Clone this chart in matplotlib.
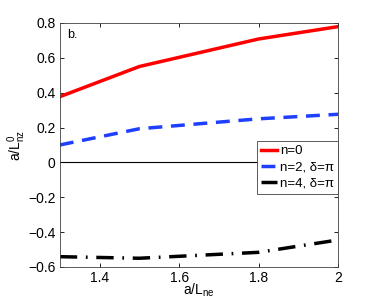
import matplotlib
matplotlib.use("Agg")
import matplotlib.pyplot as plt

plt.rcParams['font.family'] = ['Liberation Sans', 'DejaVu Sans']
plt.rcParams['mathtext.fontset'] = 'custom'
plt.rcParams['mathtext.rm'] = 'Liberation Sans'
plt.rcParams['mathtext.it'] = 'Liberation Sans'

x = [1.3, 1.5, 1.8, 2.0]
n0 = [0.377, 0.55, 0.708, 0.779]
n2 = [0.10, 0.193, 0.25, 0.276]
n4 = [-0.541, -0.55, -0.516, -0.445]
labels = ['n=0', 'n=2, δ=π', 'n=4, δ=π']
xticks = [1.4, 1.6, 1.8, 2.0]
xticklabels = ['1.4', '1.6', '1.8', '2']
yticks = [-0.6, -0.4, -0.2, 0, 0.2, 0.4, 0.6, 0.8]
yticklabels = ['−0.6', '−0.4', '−0.2', '0', '0.2', '0.4', '0.6', '0.8']

fig = plt.figure(figsize=(3.74, 3.02), dpi=100)
ax = fig.add_axes([0.160, 0.116, 0.744, 0.808])

ax.axhline(0, color='black', lw=0.8, zorder=1)
ax.plot(x, n0, color='#ff0000', lw=2.5, ls='-', label=labels[0])
ax.plot(x, n2, color='#1f3fff', lw=2.5, ls=(0, (4, 2.5)), label=labels[1])
ax.plot(x, n4, color='black', lw=2.5, ls=(0, (5, 2.5, 0.5, 2.5)), label=labels[2])

ax.set_xlim(1.3, 2.0)
ax.set_ylim(-0.6, 0.8)
ax.set_xticks(xticks)
ax.set_xticklabels(xticklabels)
ax.set_yticks(yticks)
ax.set_yticklabels(yticklabels)
ax.tick_params(direction='in', top=True, right=True, labelsize=10, length=3, width=0.6, pad=3)
for s in ax.spines.values():
    s.set_linewidth(0.6)
    s.set_color('#404040')

ax.text(0.025, 0.975, 'b.', transform=ax.transAxes, ha='left', va='top', fontsize=9)

ax.set_xlabel('a/L$_\\mathrm{ne}$', fontsize=10, labelpad=-2.5)
ax.set_ylabel('a/L$_\\mathrm{nz}^\\mathrm{0}$', fontsize=10, labelpad=0)

leg = ax.legend(loc='upper left', bbox_to_anchor=(0.71, 0.515), fontsize=9.5,
                handlelength=1.2, handletextpad=0.2, borderpad=0.3, labelspacing=0.3,
                fancybox=False, framealpha=1, edgecolor='#404040', borderaxespad=0)
leg.get_frame().set_linewidth(0.6)

fig.savefig('out.png', dpi=100)
